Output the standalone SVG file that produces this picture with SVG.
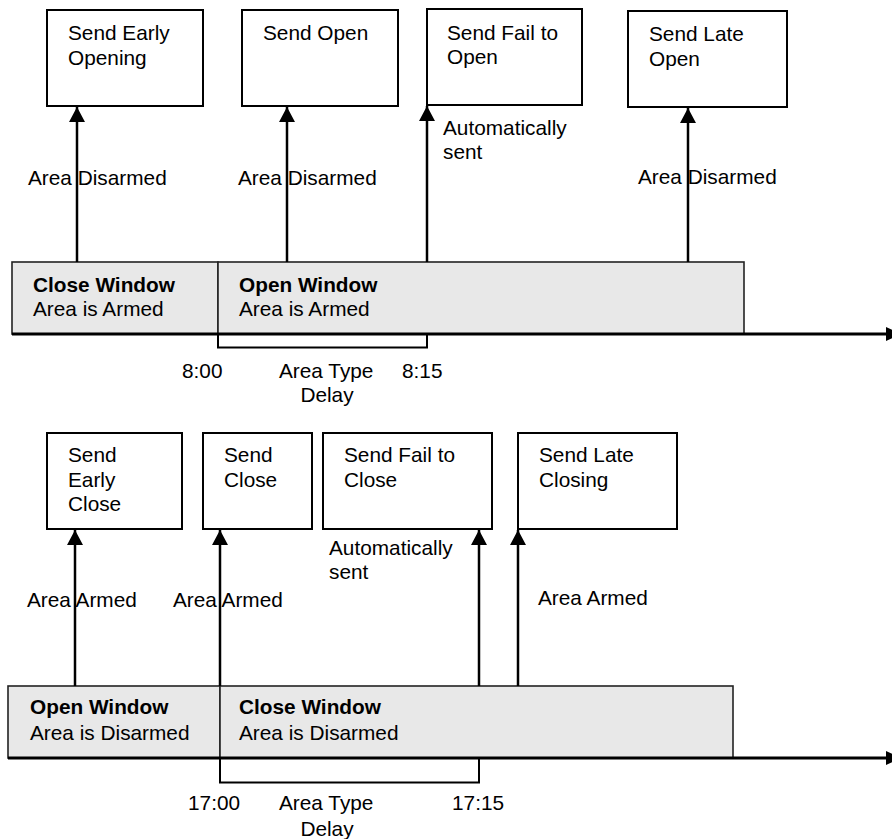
<svg xmlns="http://www.w3.org/2000/svg" width="892" height="839" viewBox="0 0 892 839">
<style>
  text { font-family: "Liberation Sans", Arial, sans-serif; font-size: 20.8px; fill: #000; }
  .b { font-weight: bold; }
  .box { fill: #fff; stroke: #000; stroke-width: 2; }
  .win { fill: #e8e8e8; stroke: #222; stroke-width: 1.6; }
  .conn { stroke: #000; stroke-width: 2.5; fill: none; }
  .axis { stroke: #000; stroke-width: 3; fill: none; }
  .brk { stroke: #000; stroke-width: 2; fill: none; }
</style>
<defs>
  <marker id="ah" markerUnits="userSpaceOnUse" markerWidth="17" markerHeight="18" refX="15" refY="8" orient="auto" overflow="visible">
    <path d="M0,0 L15,8 L0,16 Z" fill="#000"/>
  </marker>
  <marker id="ax" markerUnits="userSpaceOnUse" markerWidth="17" markerHeight="16" refX="0" refY="7" orient="auto" overflow="visible">
    <path d="M0,0 L15,7 L0,14 Z" fill="#000"/>
  </marker>
</defs>

<!-- Top section: windows -->
<g id="top-close-window">
  <rect class="win" x="12" y="262" width="206" height="72"/>
  <text class="b" x="33" y="292">Close Window</text>
  <text x="33" y="316">Area is Armed</text>
</g>
<g id="top-open-window">
  <rect class="win" x="218" y="262" width="526" height="72"/>
  <text class="b" x="239" y="292">Open Window</text>
  <text x="239" y="316">Area is Armed</text>
</g>

<!-- Top section: boxes -->
<g id="send-early-opening">
  <rect class="box" x="47" y="10" width="156" height="96"/>
  <text x="68" y="40">Send Early</text>
  <text x="68" y="65">Opening</text>
</g>
<g id="send-open">
  <rect class="box" x="242" y="10" width="156" height="96"/>
  <text x="263" y="40">Send Open</text>
</g>
<g id="send-fail-to-open">
  <rect class="box" x="427" y="9" width="155" height="96"/>
  <text x="447" y="40">Send Fail to</text>
  <text x="447" y="64">Open</text>
</g>
<g id="send-late-open">
  <rect class="box" x="628" y="11" width="159" height="96"/>
  <text x="649" y="41">Send Late</text>
  <text x="649" y="66">Open</text>
</g>

<!-- Bottom section: windows -->
<g id="bottom-open-window">
  <rect class="win" x="8" y="686" width="212" height="72"/>
  <text class="b" x="30" y="714">Open Window</text>
  <text x="30" y="740">Area is Disarmed</text>
</g>
<g id="bottom-close-window">
  <rect class="win" x="220" y="686" width="513" height="72"/>
  <text class="b" x="239" y="714">Close Window</text>
  <text x="239" y="740">Area is Disarmed</text>
</g>

<!-- Bottom section: boxes -->
<g id="send-early-close">
  <rect class="box" x="47" y="433" width="135" height="96"/>
  <text x="68" y="462">Send</text>
  <text x="68" y="487">Early</text>
  <text x="68" y="511">Close</text>
</g>
<g id="send-close">
  <rect class="box" x="203" y="433" width="109" height="96"/>
  <text x="224" y="462">Send</text>
  <text x="224" y="487">Close</text>
</g>
<g id="send-fail-to-close">
  <rect class="box" x="323" y="433" width="169" height="96"/>
  <text x="344" y="462">Send Fail to</text>
  <text x="344" y="487">Close</text>
</g>
<g id="send-late-closing">
  <rect class="box" x="518" y="433" width="159" height="96"/>
  <text x="539" y="462">Send Late</text>
  <text x="539" y="487">Closing</text>
</g>

<!-- Connectors -->
<g id="connectors">
  <!-- top -->
  <line class="conn" x1="77" y1="262" x2="77" y2="107" marker-end="url(#ah)"/>
  <line class="conn" x1="287" y1="262" x2="287" y2="107" marker-end="url(#ah)"/>
  <line class="conn" x1="427" y1="262" x2="427" y2="106" marker-end="url(#ah)"/>
  <line class="conn" x1="688" y1="262" x2="688" y2="108" marker-end="url(#ah)"/>
  <line class="axis" x1="12" y1="334" x2="886" y2="334" marker-end="url(#ax)"/>
  <polyline class="brk" points="218,334 218,347.5 427,347.5 427,334"/>
  <!-- bottom -->
  <line class="conn" x1="75" y1="686" x2="75" y2="530" marker-end="url(#ah)"/>
  <line class="conn" x1="220" y1="686" x2="220" y2="530" marker-end="url(#ah)"/>
  <line class="conn" x1="479" y1="686" x2="479" y2="530" marker-end="url(#ah)"/>
  <line class="conn" x1="518" y1="686" x2="518" y2="530" marker-end="url(#ah)"/>
  <line class="axis" x1="8" y1="758" x2="886" y2="758" marker-end="url(#ax)"/>
  <polyline class="brk" points="220,758 220,782.5 479,782.5 479,758"/>
</g>

<!-- Connector labels -->
<g id="labels">
  <text x="28" y="185">Area Disarmed</text>
  <text x="238" y="185">Area Disarmed</text>
  <text x="443" y="135">Automatically</text>
  <text x="443" y="159">sent</text>
  <text x="638" y="184">Area Disarmed</text>
  <text x="182" y="378">8:00</text>
  <text x="279" y="378">Area Type</text>
  <text x="327" y="402" text-anchor="middle">Delay</text>
  <text x="402" y="378">8:15</text>

  <text x="27" y="607">Area Armed</text>
  <text x="173" y="607">Area Armed</text>
  <text x="329" y="555">Automatically</text>
  <text x="329" y="579">sent</text>
  <text x="538" y="605">Area Armed</text>
  <text x="188" y="810">17:00</text>
  <text x="279" y="810">Area Type</text>
  <text x="327" y="836" text-anchor="middle">Delay</text>
  <text x="452" y="810">17:15</text>
</g>
</svg>
